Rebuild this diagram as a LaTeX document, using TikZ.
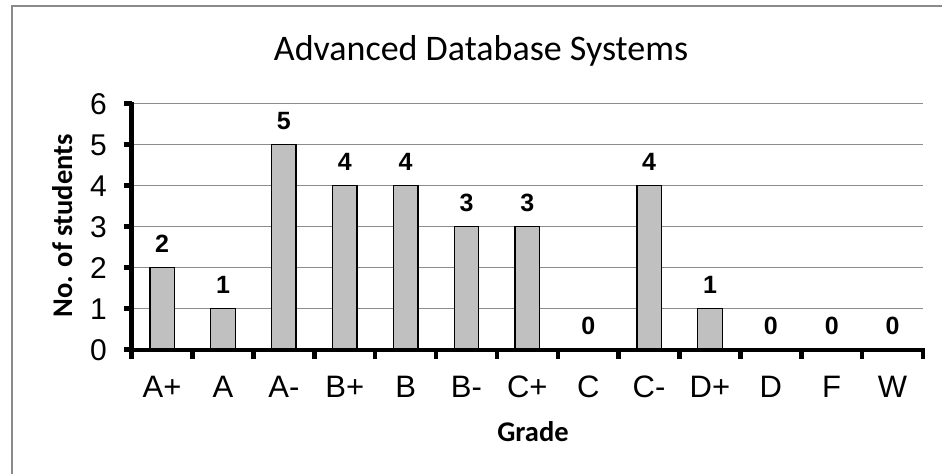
\documentclass[tikz,border=0pt]{standalone}
\usepackage{fontspec}
\setmainfont{Liberation Sans}
\newfontfamily\calfont{Carlito}
\definecolor{framegray}{HTML}{8A8A8A}
\definecolor{gridgray}{HTML}{8C8C8C}
\definecolor{barfill}{HTML}{C0C0C0}
\begin{document}
\begin{tikzpicture}[x=1pt,y=-1pt,
  frameline/.style={draw=framegray,line width=2pt},
  gridline/.style={draw=gridgray,line width=1.2pt},
  axisline/.style={draw=black,line width=4.5pt},
  barbox/.style={draw=black,fill=barfill,line width=1.4pt},
  vallab/.style={inner sep=0pt,font=\bfseries\fontsize{25}{27}\selectfont},
  xlab/.style={inner sep=0pt,font=\fontsize{31}{33}\selectfont},
  ylab/.style={inner sep=0pt,font=\fontsize{30}{32}\selectfont},
  axtitle/.style={inner sep=0pt,font=\calfont\bfseries\fontsize{28.5}{30}\selectfont},
  charttitle/.style={inner sep=0pt,font=\calfont\fontsize{36}{38}\selectfont}]
\useasboundingbox (0,0) rectangle (942,474);
% frame
\draw[frameline] (12,474) -- (12,6) -- (942,6);
% title
\node[charttitle,anchor=base] (title) at (481,60) {Advanced Database Systems};
% gridlines
\foreach \k in {1,...,6}
  \draw[gridline] (131.7,{349.5-41*\k}) -- (923,{349.5-41*\k});
% y tick labels
\foreach \k in {0,...,6}
  \node[ylab,anchor=base east] (y\k) at (107,{349.5-41*\k+10.5}) {\k};
% bars and labels
\foreach \lab/\v [count=\i from 0] in {A+/2,A/1,A-/5,B+/4,B/4,B-/3,C+/3,C/0,C-/4,D+/1,D/0,F/0,W/0}{
  \pgfmathsetmacro\cx{131.7+(\i+0.5)*60.87}
  \ifnum\v>0
    \draw[barbox] (\cx-12.25,349.5) rectangle (\cx+12.25,{349.5-41*\v});
  \fi
  \node[vallab,anchor=base] (v\i) at (\cx,{349.5-41*\v-15.5}) {\v};
  \node[xlab,anchor=base] (x\i) at (\cx,397) {\lab};
}
% axes
\draw[axisline] (131.7,101.5) -- (131.7,352);
\draw[axisline] (124,350) -- (925,350);
\foreach \k in {0,...,6}
  \draw[axisline] (131.7,{349.5-41*\k}) -- ++(-8,0);
\foreach \k in {0,...,13}
  \draw[axisline] ({131.7+60.87*\k},350) -- ++(0,9);
% axis titles
\node[axtitle,anchor=base] (xt) at (533,441) {Grade};
\node[axtitle,anchor=base,rotate=90] (yt) at (72,226) {No. of students};
\end{tikzpicture}
\end{document}
